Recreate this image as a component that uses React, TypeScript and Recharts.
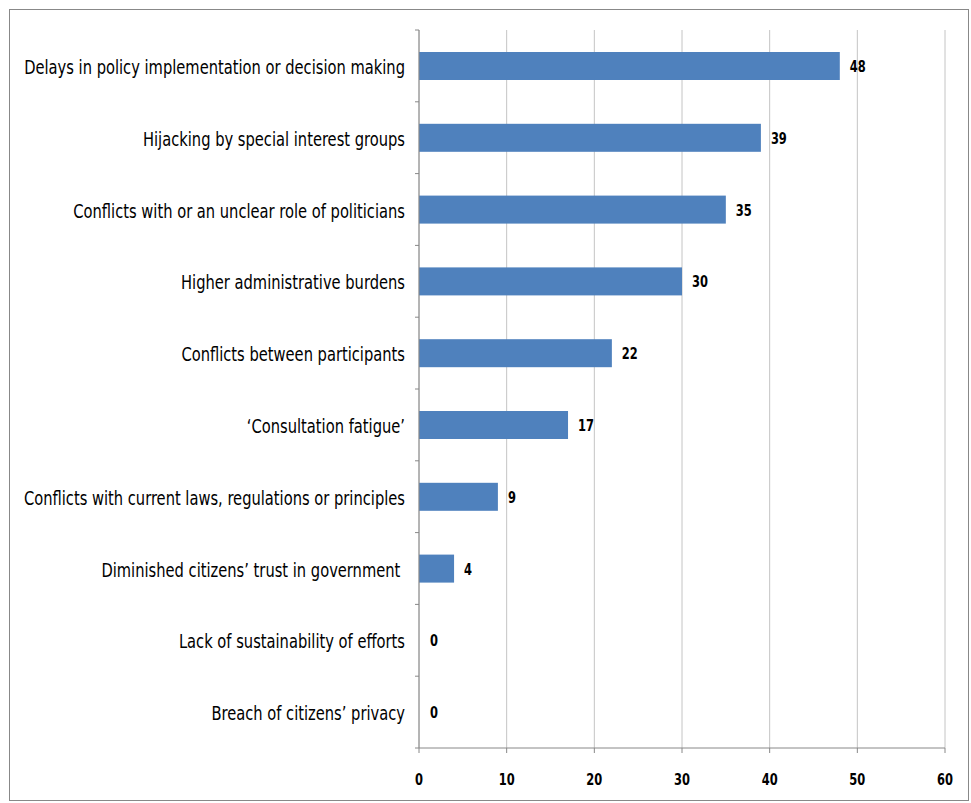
import React from 'react';
import { BarChart, Bar, XAxis, YAxis, CartesianGrid, LabelList } from 'recharts';

const categories = [
  'Delays in policy implementation or decision making',
  'Hijacking by special interest groups',
  'Conflicts with or an unclear role of politicians',
  'Higher administrative burdens',
  'Conflicts between participants',
  '\u2018Consultation fatigue\u2019',
  'Conflicts with current laws, regulations or principles',
  'Diminished citizens\u2019 trust in government\u00a0',
  'Lack of sustainability of efforts',
  'Breach of citizens\u2019 privacy',
];
const counts = [48, 39, 35, 30, 22, 17, 9, 4, 0, 0];
const xTicks = [0, 10, 20, 30, 40, 50, 60];

const data = categories.map((c, i) => ({ name: c, value: counts[i] }));

const FONT = '"DejaVu Sans Condensed", "DejaVu Sans", sans-serif';
const BAND = 718 / categories.length;

const CatTick = (props: any) => {
  const { x, y, payload } = props;
  return (
    <g>
      <line x1={x + 10} x2={x + 14} y1={y - BAND / 2} y2={y - BAND / 2} stroke="#888" />
      {payload.index === categories.length - 1 && (
        <line x1={x + 10} x2={x + 14} y1={y + BAND / 2} y2={y + BAND / 2} stroke="#888" />
      )}
      <text
        transform={`translate(${x},${y + 2}) scale(0.86,1)`}
        dy={6}
        textAnchor="end"
        fill="#000"
        fontSize={19}
        fontFamily={FONT}
      >
        {payload.value}
      </text>
    </g>
  );
};

const NumTick = (props: any) => {
  const { x, y, payload } = props;
  return (
    <text
      transform={`translate(${x},${y + 8}) scale(0.85,1)`}
      dy={10}
      textAnchor="middle"
      fill="#000"
      fontSize={15}
      fontWeight="bold"
      fontFamily={FONT}
    >
      {payload.value}
    </text>
  );
};

const BarShape = (props: any) => {
  const { x, y, width, height, value } = props;
  if (!value) return null;
  return <rect x={x} y={y} width={width} height={height} fill="#4f81bd" />;
};

const ValueLabel = (props: any) => {
  const { x, y, width, height, value } = props;
  return (
    <text
      transform={`translate(${x + width + 10},${y + height / 2 + 6}) scale(0.85,1)`}
      fill="#000"
      fontSize={15}
      fontWeight="bold"
      fontFamily={FONT}
    >
      {value}
    </text>
  );
};

export default function App() {
  return (
    <div
      style={{
        position: 'absolute',
        left: 9,
        top: 9,
        width: 958,
        height: 790,
        border: '1px solid #888',
        background: '#fff',
      }}
    >
      <BarChart
        width={958}
        height={790}
        data={data}
        layout="vertical"
        margin={{ top: 20, right: 23, bottom: 22, left: 0 }}
        barCategoryGap={22}
      >
        <CartesianGrid horizontal={false} stroke="#c4c4c4" />
        <XAxis
          type="number"
          domain={[0, 60]}
          ticks={xTicks}
          height={30}
          axisLine={{ stroke: '#888' }}
          tickLine={{ stroke: '#888' }}
          tickSize={5}
          tickMargin={14}
          tick={<NumTick />}
        />
        <YAxis
          type="category"
          dataKey="name"
          width={409}
          axisLine={{ stroke: '#888' }}
          tickLine={false}
          tickSize={0}
          tickMargin={14}
          tick={<CatTick />}
          interval={0}
        />
        <Bar dataKey="value" fill="#4f81bd" minPointSize={1} shape={<BarShape />} isAnimationActive={false}>
          <LabelList dataKey="value" content={<ValueLabel />} />
        </Bar>
      </BarChart>
    </div>
  );
}
